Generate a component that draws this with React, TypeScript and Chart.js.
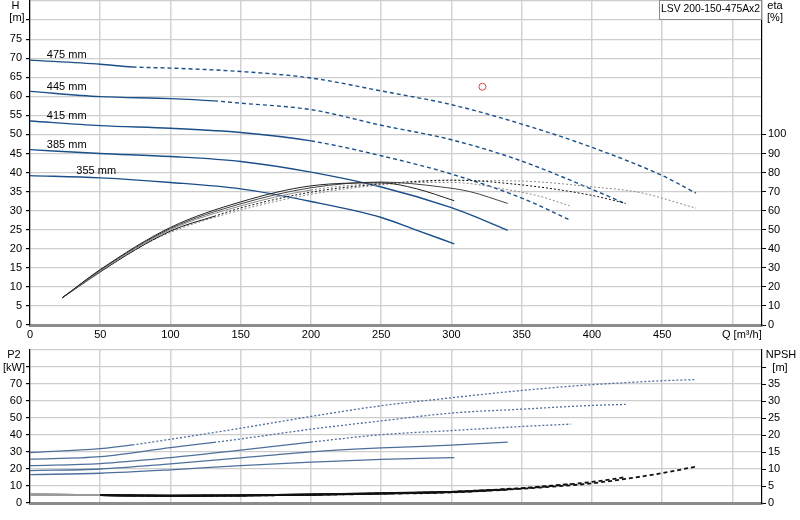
import { useEffect, useRef } from "react";
import Chart from "chart.js/auto";

const FONT = "'Liberation Sans', Arial, Helvetica, sans-serif";
const MODEL = "LSV 200-150-475Ax2";

const diameters = ["355 mm", "385 mm", "415 mm", "445 mm", "475 mm"];
// Q where the solid part of a curve stops and the dashed / dotted part starts
const solidUntil = [1000, 1000, 200, 131, 73];
const labelAtQ = [33, 12, 12, 12, 12];

// H [m]
const q355H = [0, 50, 100, 150, 200, 250, 275, 302];
const h355 = [39.2, 38.6, 37.4, 35.7, 32.4, 28.2, 24.9, 21.3];
const q385H = [0, 50, 100, 150, 200, 250, 300, 315, 340];
const h385 = [46.0, 45.0, 44.2, 42.9, 40.1, 36.2, 30.8, 28.7, 24.8];
const q415H = [0, 50, 100, 150, 200, 250, 300, 350, 385];
const h415 = [53.5, 52.3, 51.6, 50.5, 48.3, 44.4, 39.6, 33.3, 27.4];
const q445H = [0, 50, 100, 131, 150, 200, 250, 300, 350, 400, 424];
const h445 = [61.3, 59.9, 59.4, 58.8, 58.2, 56.5, 52.4, 48.6, 43.0, 35.6, 31.8];
const q475H = [0, 50, 73, 100, 150, 200, 250, 300, 350, 400, 450, 474];
const h475 = [69.5, 68.4, 67.7, 67.4, 66.5, 64.8, 61.4, 57.8, 52.7, 46.6, 39.2, 34.6];

// eta [%]
const q355E = [23, 50, 100, 150, 200, 250, 275, 302];
const eta355 = [14.3, 29.1, 51.2, 64.6, 73.0, 74.6, 71.5, 65.2];
const q385E = [23, 50, 100, 150, 200, 250, 292, 313, 340];
const eta385 = [14.3, 28.8, 50.6, 63.6, 72.0, 75.0, 72.5, 70.0, 63.8];
const q415E = [23, 50, 100, 150, 200, 250, 300, 340, 363, 384];
const eta415 = [14.3, 28.3, 50.0, 62.5, 70.8, 74.3, 74.8, 71.0, 67.5, 62.6];
const q445E = [23, 50, 100, 131, 150, 200, 250, 300, 350, 400, 424];
const eta445 = [14.3, 28.0, 49.3, 57.0, 61.4, 69.7, 74.0, 76.0, 73.5, 68.0, 63.8];
const q475E = [23, 50, 73, 100, 150, 200, 250, 300, 350, 400, 434, 474];
const eta475 = [14.3, 27.7, 38.8, 48.6, 60.3, 68.6, 73.5, 75.8, 75.5, 72.5, 69.5, 61.3];

// P2 [kW]
const q355P = [0, 50, 100, 150, 200, 250, 302];
const p355 = [16.7, 17.5, 19.5, 22.0, 24.0, 25.7, 26.7];
const q385P = [0, 50, 100, 150, 200, 250, 300, 340];
const p385 = [19.1, 20.0, 23.0, 26.5, 30.1, 32.4, 34.0, 35.8];
const q415P = [0, 50, 100, 150, 200, 250, 300, 350, 385];
const p415 = [22.0, 23.2, 26.7, 31.1, 35.8, 40.2, 42.6, 45.0, 46.4];
const q445P = [0, 50, 100, 131, 150, 200, 250, 300, 350, 400, 424];
const p445 = [25.8, 27.3, 32.6, 35.7, 37.7, 43.4, 48.3, 52.9, 55.2, 57.4, 58.0];
const q475P = [0, 50, 73, 100, 150, 200, 250, 300, 350, 400, 450, 474];
const p475 = [29.7, 32.0, 34.2, 37.5, 44.0, 50.9, 57.2, 61.9, 66.2, 69.6, 71.9, 72.6];

// NPSH [m]
const q355N = [0, 50, 100, 150, 200, 250, 302];
const n355 = [2.5, 2.3, 2.15, 2.25, 2.5, 2.9, 3.3];
const q385N = [0, 50, 100, 150, 200, 250, 300, 340];
const n385 = [2.5, 2.3, 2.15, 2.25, 2.5, 2.85, 3.3, 4.0];
const q415N = [0, 50, 100, 150, 200, 250, 300, 350, 385];
const n415 = [2.5, 2.3, 2.15, 2.2, 2.45, 2.8, 3.3, 4.4, 5.6];
const q445N = [0, 50, 100, 131, 150, 200, 250, 300, 350, 400, 424];
const n445 = [2.5, 2.3, 2.1, 2.15, 2.2, 2.4, 2.75, 3.2, 4.3, 6.2, 7.6];
const q475N = [0, 50, 73, 100, 150, 200, 250, 300, 350, 400, 450, 474];
const n475 = [2.5, 2.3, 2.2, 2.1, 2.2, 2.4, 2.7, 3.1, 4.2, 5.8, 8.8, 10.7];

// duty point
const dutyQ = [322];
const dutyH = [62.5];

const hCurves = [[q355H, h355], [q385H, h385], [q415H, h415], [q445H, h445], [q475H, h475]];
const etaCurves = [[q355E, eta355], [q385E, eta385], [q415E, eta415], [q445E, eta445], [q475E, eta475]];
const p2Curves = [[q355P, p355], [q385P, p385], [q415P, p415], [q445P, p445], [q475P, p475]];
const npshCurves = [[q355N, n355], [q385N, n385], [q415N, n415], [q445N, n445], [q475N, n475]];

const etaColors = ["#222222", "#444444", "#8a8a8a", "#111111", "#8a8a8a"];

function line(qs: number[], vs: number[], axis: string, color: string, width: number, dash: number[], solid: number, extra: any = {}) {
	return {
		data: qs.map((q, i) => ({ x: q, y: vs[i] })),
		yAxisID: axis,
		borderColor: color,
		borderWidth: width,
		pointRadius: 0,
		fill: false,
		cubicInterpolationMode: "monotone",
		segment: {
			borderDash: (ctx: any) => (ctx.p0.parsed.x >= solid ? dash : undefined),
			...extra
		}
	};
}

function interp(qs: number[], vs: number[], q: number) {
	for (let i = 1; i < qs.length; i++) {
		if (q <= qs[i]) return vs[i - 1] + ((vs[i] - vs[i - 1]) * (q - qs[i - 1])) / (qs[i] - qs[i - 1]);
	}
	return vs[vs.length - 1];
}

const tickFont = { family: FONT, size: 11 };

function xScale(height: number, labels: boolean) {
	return {
		type: "linear",
		min: 0,
		max: 521,
		ticks: {
			display: labels,
			stepSize: 50,
			includeBounds: false,
			autoSkip: false,
			maxRotation: 0,
			padding: 3,
			color: "#000",
			font: tickFont,
			callback: (v: number) => (v <= 450 ? String(v) : "")
		},
		grid: { color: "#d3d3d3", lineWidth: 1.5, drawTicks: false },
		border: { color: "#8c8c8c", width: 3 },
		afterFit: (s: any) => {
			s.height = height;
			s.paddingLeft = 0;
			s.paddingRight = 0;
		}
	};
}

function sideScale(position: string, max: number, step: number, lastLabel: number, lastTick: number, width: number) {
	const left = position === "left";
	return {
		position,
		min: 0,
		max,
		ticks: {
			stepSize: step,
			autoSkip: false,
			padding: left ? 4 : 2,
			color: "#000",
			font: tickFont,
			callback: (v: number) => (v <= lastLabel ? String(v) : "")
		},
		grid: left
			? { color: "#cdcdcd", lineWidth: 1.2, tickLength: 4, tickColor: (c: any) => (c.tick && c.tick.value <= lastTick ? "#000" : "rgba(0,0,0,0)") }
			: { drawOnChartArea: false, tickLength: 4, color: (c: any) => (c.tick && c.tick.value <= lastTick ? "#000" : "rgba(0,0,0,0)") },
		border: { color: "#000", width: 1.2 },
		afterFit: (s: any) => {
			s.width = width;
			s.paddingTop = 0;
			s.paddingBottom = 0;
		}
	};
}

const topText = {
	id: "topText",
	afterDraw(chart: any) {
		const { ctx, scales } = chart;
		ctx.save();
		ctx.font = `11px ${FONT}`;
		ctx.fillStyle = "#000";
		ctx.textBaseline = "middle";
		ctx.textAlign = "center";
		ctx.fillText("H", 15.5, 6);
		ctx.fillText("[m]", 17, 17.5);
		ctx.fillText("eta", 775, 6);
		ctx.fillText("[%]", 775, 17.5);
		ctx.textAlign = "left";
		ctx.fillText("Q [m³/h]", 722, 335);
		diameters.forEach((d, i) => {
			const [qs, vs] = hCurves[i];
			const q = labelAtQ[i];
			const x = scales.x.getPixelForValue(q);
			const y = scales.y.getPixelForValue(interp(qs, vs, q)) - 6;
			ctx.fillText(d, x, y);
		});
		ctx.fillStyle = "#fff";
		ctx.fillRect(659, 1, 102, 19);
		ctx.strokeStyle = "#8c8c8c";
		ctx.lineWidth = 1;
		ctx.strokeRect(659.5, 0.5, 102, 19);
		ctx.fillStyle = "#000";
		ctx.fillText(MODEL, 661, 9, 99);
		ctx.restore();
	}
};

const bottomText = {
	id: "bottomText",
	afterDraw(chart: any) {
		const { ctx } = chart;
		ctx.save();
		ctx.font = `11px ${FONT}`;
		ctx.fillStyle = "#000";
		ctx.textBaseline = "middle";
		ctx.textAlign = "center";
		ctx.fillText("P2", 14, 10);
		ctx.fillText("[kW]", 14, 22.5);
		ctx.fillText("NPSH", 781, 10);
		ctx.fillText("[m]", 780, 22.5);
		ctx.restore();
	}
};

export default function App() {
	const topRef = useRef<HTMLCanvasElement>(null);
	const bottomRef = useRef<HTMLCanvasElement>(null);

	useEffect(() => {
		if (!topRef.current || !bottomRef.current) return;

		const topSets: any[] = [];
		etaCurves.forEach(([qs, vs], i) => topSets.push(line(qs, vs, "y2", etaColors[i], 1, [2, 2], solidUntil[i])));
		hCurves.forEach(([qs, vs], i) => topSets.push(line(qs, vs, "y", "#1b4f8a", 1.4, [4, 3], solidUntil[i])));
		topSets.push({
			type: "scatter",
			data: dutyQ.map((q, i) => ({ x: q, y: dutyH[i] })),
			yAxisID: "y",
			pointRadius: 3.5,
			pointBorderColor: "#e8413c",
			pointBackgroundColor: "rgba(0,0,0,0)",
			pointBorderWidth: 1
		});

		const top = new Chart(topRef.current, {
			type: "line",
			data: { datasets: topSets },
			options: {
				animation: false,
				responsive: false,
				layout: { autoPadding: false, padding: { top: 1 } },
				plugins: { legend: { display: false }, tooltip: { enabled: false } },
				scales: {
					x: xScale(20, true),
					y: sideScale("left", 85, 5, 75, 80, 30),
					y2: sideScale("right", 170, 10, 100, 100, 38)
				}
			} as any,
			plugins: [topText]
		});

		const bottomSets: any[] = [];
		npshCurves.forEach(([qs, vs], i) =>
			bottomSets.push(
				line(qs, vs, "y2", "#111111", 1.8, [4, 3], solidUntil[i], {
					borderColor: (ctx: any) => (ctx.p1.parsed.x <= 50 ? "#9a9a9a" : "#111111")
				})
			)
		);
		p2Curves.forEach(([qs, vs], i) => bottomSets.push(line(qs, vs, "y", "#4d6f9c", 1.3, [2, 2], solidUntil[i])));

		const bottom = new Chart(bottomRef.current, {
			type: "line",
			data: { datasets: bottomSets },
			options: {
				animation: false,
				responsive: false,
				layout: { autoPadding: false, padding: { top: 5 } },
				plugins: { legend: { display: false }, tooltip: { enabled: false } },
				scales: {
					x: xScale(17, false),
					y: sideScale("left", 90, 10, 70, 80, 30),
					y2: sideScale("right", 45, 5, 35, 40, 38)
				}
			} as any,
			plugins: [bottomText]
		});

		return () => {
			top.destroy();
			bottom.destroy();
		};
	}, []);

	return (
		<div style={{ position: "absolute", left: 0, top: 0, width: 800, height: 520, background: "#fff" }}>
			<canvas ref={topRef} width={800} height={345} style={{ display: "block" }} />
			<canvas ref={bottomRef} width={800} height={175} style={{ display: "block" }} />
		</div>
	);
}
